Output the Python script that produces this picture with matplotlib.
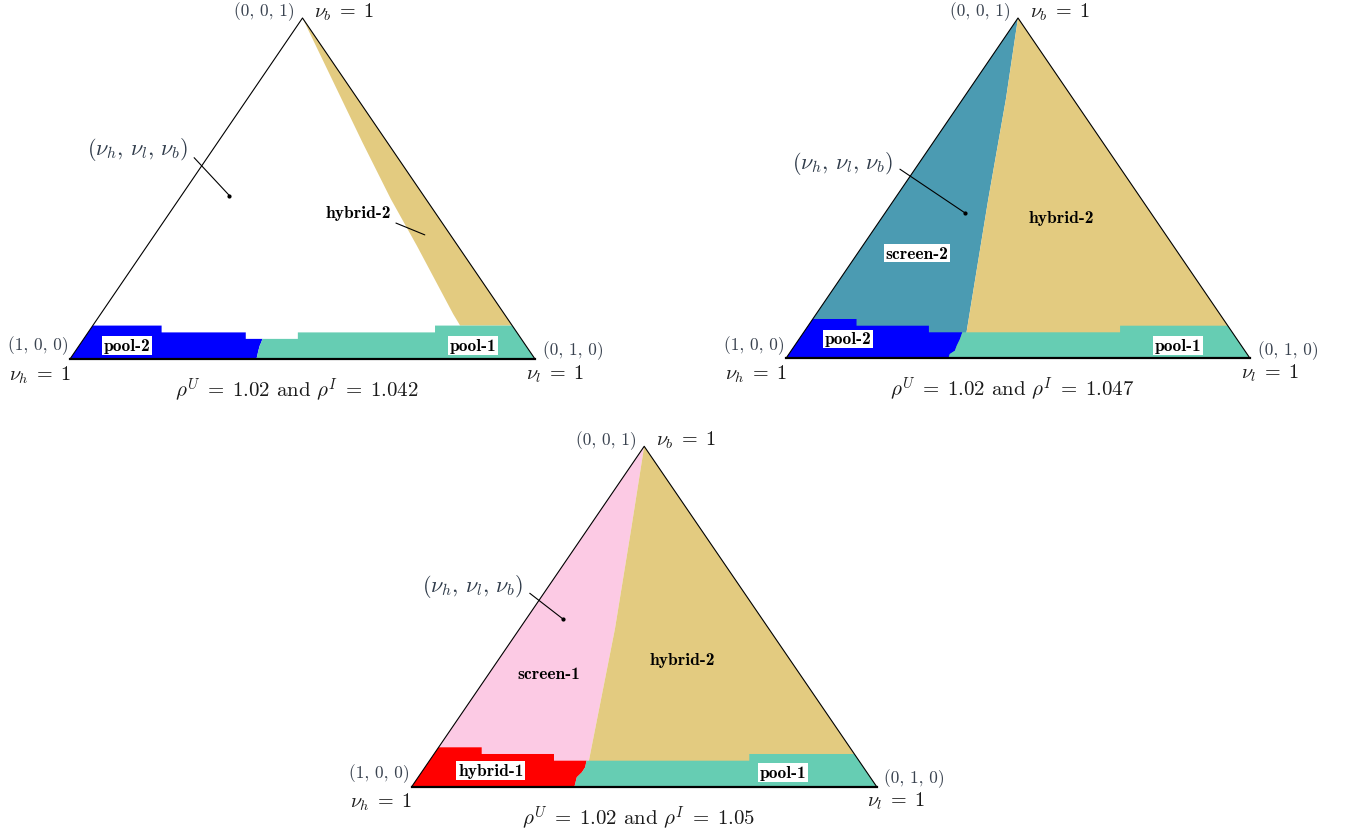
import matplotlib.pyplot as plt
from matplotlib.patches import Polygon

plt.rcParams['mathtext.fontset'] = 'cm'

# simplex coordinates used below: x = nu_l + nu_b / 2 (along the base), y = nu_b
rho_U = 1.02
rho_I = [1.042, 1.047, 1.05]

# colours of the equilibrium regions
colors = {
    'pool-1': '#66cdb3',
    'pool-2': '#0000ff',
    'hybrid-1': '#ff0000',
    'hybrid-2': '#e3cb80',
    'screen-1': '#fccae4',
    'screen-2': '#4b9bb2',
}

# ---- panel 1 (rho_I = 1.042) ----
p1_hybrid2_edge = [(0.500, 1.000), (0.629, 0.635), (0.690, 0.469), (0.746, 0.332),
                   (0.824, 0.132), (0.839, 0.098)]
p1_pool2 = [(-0.2, 0.0), (-0.2, 0.098), (0.197, 0.098), (0.197, 0.078), (0.378, 0.078),
            (0.378, 0.059), (0.414, 0.059), (0.410, 0.045), (0.408, 0.039), (0.405, 0.024),
            (0.403, 0.012), (0.401, 0.0)]
p1_pool1 = [(0.401, 0.0), (0.403, 0.012), (0.405, 0.024), (0.408, 0.039), (0.410, 0.045),
            (0.414, 0.059), (0.490, 0.059), (0.490, 0.078), (0.785, 0.078), (0.785, 0.098),
            (1.2, 0.098), (1.2, 0.0)]

# ---- panel 2 (rho_I = 1.047) ----
p2_split = [(0.389, 0.0), (0.389, 0.076), (0.436, 0.468), (0.474, 0.762), (0.500, 1.000)]
p2_pool2 = [(-0.2, 0.0), (-0.2, 0.1155), (0.152, 0.1155), (0.152, 0.0958), (0.308, 0.0958),
            (0.308, 0.0764), (0.380, 0.0764), (0.375, 0.0567), (0.368, 0.037),
            (0.364, 0.0223), (0.353, 0.0126), (0.350, 0.0)]
p2_pool1 = [(0.350, 0.0), (0.353, 0.0126), (0.364, 0.0223), (0.368, 0.037), (0.375, 0.0567),
            (0.380, 0.0764), (0.720, 0.0764), (0.720, 0.0958), (1.2, 0.0958), (1.2, 0.0)]

# ---- panel 3 (rho_I = 1.05) ----
p3_split = [(0.381, 0.0), (0.381, 0.076), (0.437, 0.463), (0.472, 0.757), (0.500, 1.000)]
p3_hybrid1 = [(-0.2, 0.0), (-0.2, 0.1157), (0.1505, 0.1157), (0.1505, 0.0961), (0.306, 0.0961),
              (0.306, 0.0764), (0.376, 0.0764), (0.373, 0.057), (0.366, 0.0423),
              (0.355, 0.0276), (0.350, 0.0)]
p3_pool1 = [(0.350, 0.0), (0.355, 0.0276), (0.366, 0.0423), (0.373, 0.057), (0.376, 0.0764),
            (0.726, 0.0764), (0.726, 0.0961), (1.2, 0.0961), (1.2, 0.0)]

# pointed-at belief (nu_h, nu_l, nu_b) in each panel, as simplex x/y
belief_pts = [(0.343, 0.479), (0.386, 0.427), (0.325, 0.493)]


W, H = 1346, 837
fig = plt.figure(figsize=(W / 100, H / 100), dpi=100)

# triangle corners in figure pixels: left x, right x, base y, apex y
frames = [(70, 535, 360, 19), (786, 1250, 359.3, 19), (411.7, 876.7, 787.7, 447.3)]

LABEL_SIZE = 12.5


def make_ax(frame):
    l, r, base, apex = frame
    ax = fig.add_axes([l / W, (H - base) / H, (r - l) / W, (base - apex) / H])
    ax.set_xlim(0, 1)
    ax.set_ylim(0, 1)
    ax.axis('off')
    tri = Polygon([(0, 0), (1, 0), (0.5, 1)], closed=True, fc='white', ec='none', zorder=0)
    ax.add_patch(tri)
    return ax, tri


def region(ax, tri, pts, name, z=1):
    p = Polygon(pts, closed=True, fc=colors[name], ec='none', zorder=z)
    ax.add_patch(p)
    p.set_clip_path(tri)


def split_regions(split):
    left = split + [(0.5, 1.2), (-0.2, 1.2), (-0.2, 0.0)]
    right = split + [(0.5, 1.2), (1.2, 1.2), (1.2, 0.0)]
    return left, right


def frame_text(ax, k):
    ax.plot([0, 0.5, 1], [0, 1, 0], color='black', lw=0.8, zorder=4, clip_on=False)
    ax.plot([0, 1], [0, 0], color='black', lw=1.6, zorder=4, clip_on=False)
    tup = dict(family='cmr10', fontsize=12.5, color='#3a4350', ha='center', va='center',
               textcoords='offset pixels', annotation_clip=False)
    nu = dict(fontsize=14.5, color='#1a1a1a', ha='center', va='center',
              textcoords='offset pixels', annotation_clip=False)
    ax.annotate('(1, 0, 0)', xy=(0, 0), xytext=(-32, 14), **tup)
    ax.annotate('(0, 1, 0)', xy=(1, 0), xytext=(38, 9), **tup)
    ax.annotate('(0, 0, 1)', xy=(0.5, 1), xytext=(-38, 7), **tup)
    ax.annotate(r'$\nu_h\;=\;1$', xy=(0, 0), xytext=(-30, -15), **nu)
    ax.annotate(r'$\nu_l\;=\;1$', xy=(1, 0), xytext=(20, -14), **nu)
    ax.annotate(r'$\nu_b\;=\;1$', xy=(0.5, 1), xytext=(42, 7), **nu)
    ax.annotate(r'$\rho^U\;=\;%g$ and $\rho^I\;=\;%g$' % (rho_U, rho_I[k]), xy=(0.5, 0),
                xytext=(-6, -30), family='cmr10', fontsize=15, color='#1a1a1a',
                ha='center', va='center', textcoords='offset pixels', annotation_clip=False)


def belief(ax, k, txt_xy):
    ax.plot(*belief_pts[k], 'o', color='black', ms=2, zorder=6)
    ax.annotate(r'$(\nu_h,\,\nu_l,\,\nu_b)$', xy=belief_pts[k], xytext=txt_xy,
                fontsize=16, color='#2f3b4a', ha='center', va='center', zorder=6,
                arrowprops=dict(arrowstyle='-', lw=0.8, color='black', relpos=(1, 0.4),
                                shrinkA=3, shrinkB=0))


def label(ax, xy, s, boxed=True):
    kw = dict(family='cmb10', fontsize=LABEL_SIZE, color='black', ha='center', va='center',
              zorder=7)
    if boxed:
        kw['bbox'] = dict(boxstyle='square,pad=0.1', fc='white', ec='none')
    ax.text(xy[0], xy[1], s, **kw)


# panel 1
ax, tri = make_ax(frames[0])
region(ax, tri, p1_hybrid2_edge + [(1.2, 0.098), (1.2, 1.2), (0.5, 1.2)], 'hybrid-2')
region(ax, tri, p1_pool2, 'pool-2', 2)
region(ax, tri, p1_pool1, 'pool-1', 2)
frame_text(ax, 0)
belief(ax, 0, (0.146, 0.616))
ax.annotate('hybrid-2', xy=(0.763, 0.364), xytext=(0.619, 0.431), family='cmb10',
            fontsize=LABEL_SIZE, ha='center', va='center', zorder=7,
            arrowprops=dict(arrowstyle='-', lw=0.8, color='black', relpos=(0.95, 0.0),
                            shrinkA=2, shrinkB=0))
label(ax, (0.123, 0.039), 'pool-2')
label(ax, (0.867, 0.039), 'pool-1')

# panel 2
ax, tri = make_ax(frames[1])
left, right = split_regions(p2_split)
region(ax, tri, left, 'screen-2')
region(ax, tri, right, 'hybrid-2')
region(ax, tri, p2_pool2, 'pool-2', 2)
region(ax, tri, p2_pool1, 'pool-1', 2)
frame_text(ax, 1)
belief(ax, 1, (0.123, 0.576))
label(ax, (0.593, 0.414), 'hybrid-2', boxed=False)
label(ax, (0.282, 0.309), 'screen-2')
label(ax, (0.134, 0.057), 'pool-2')
label(ax, (0.845, 0.037), 'pool-1')

# panel 3
ax, tri = make_ax(frames[2])
left, right = split_regions(p3_split)
region(ax, tri, left, 'screen-1')
region(ax, tri, right, 'hybrid-2')
region(ax, tri, p3_hybrid1, 'hybrid-1', 2)
region(ax, tri, p3_pool1, 'pool-1', 2)
frame_text(ax, 2)
belief(ax, 2, (0.132, 0.590))
label(ax, (0.295, 0.334), 'screen-1', boxed=False)
label(ax, (0.582, 0.373), 'hybrid-2', boxed=False)
label(ax, (0.1705, 0.047), 'hybrid-1')
label(ax, (0.799, 0.042), 'pool-1')

fig.savefig('out.png', dpi=100)
